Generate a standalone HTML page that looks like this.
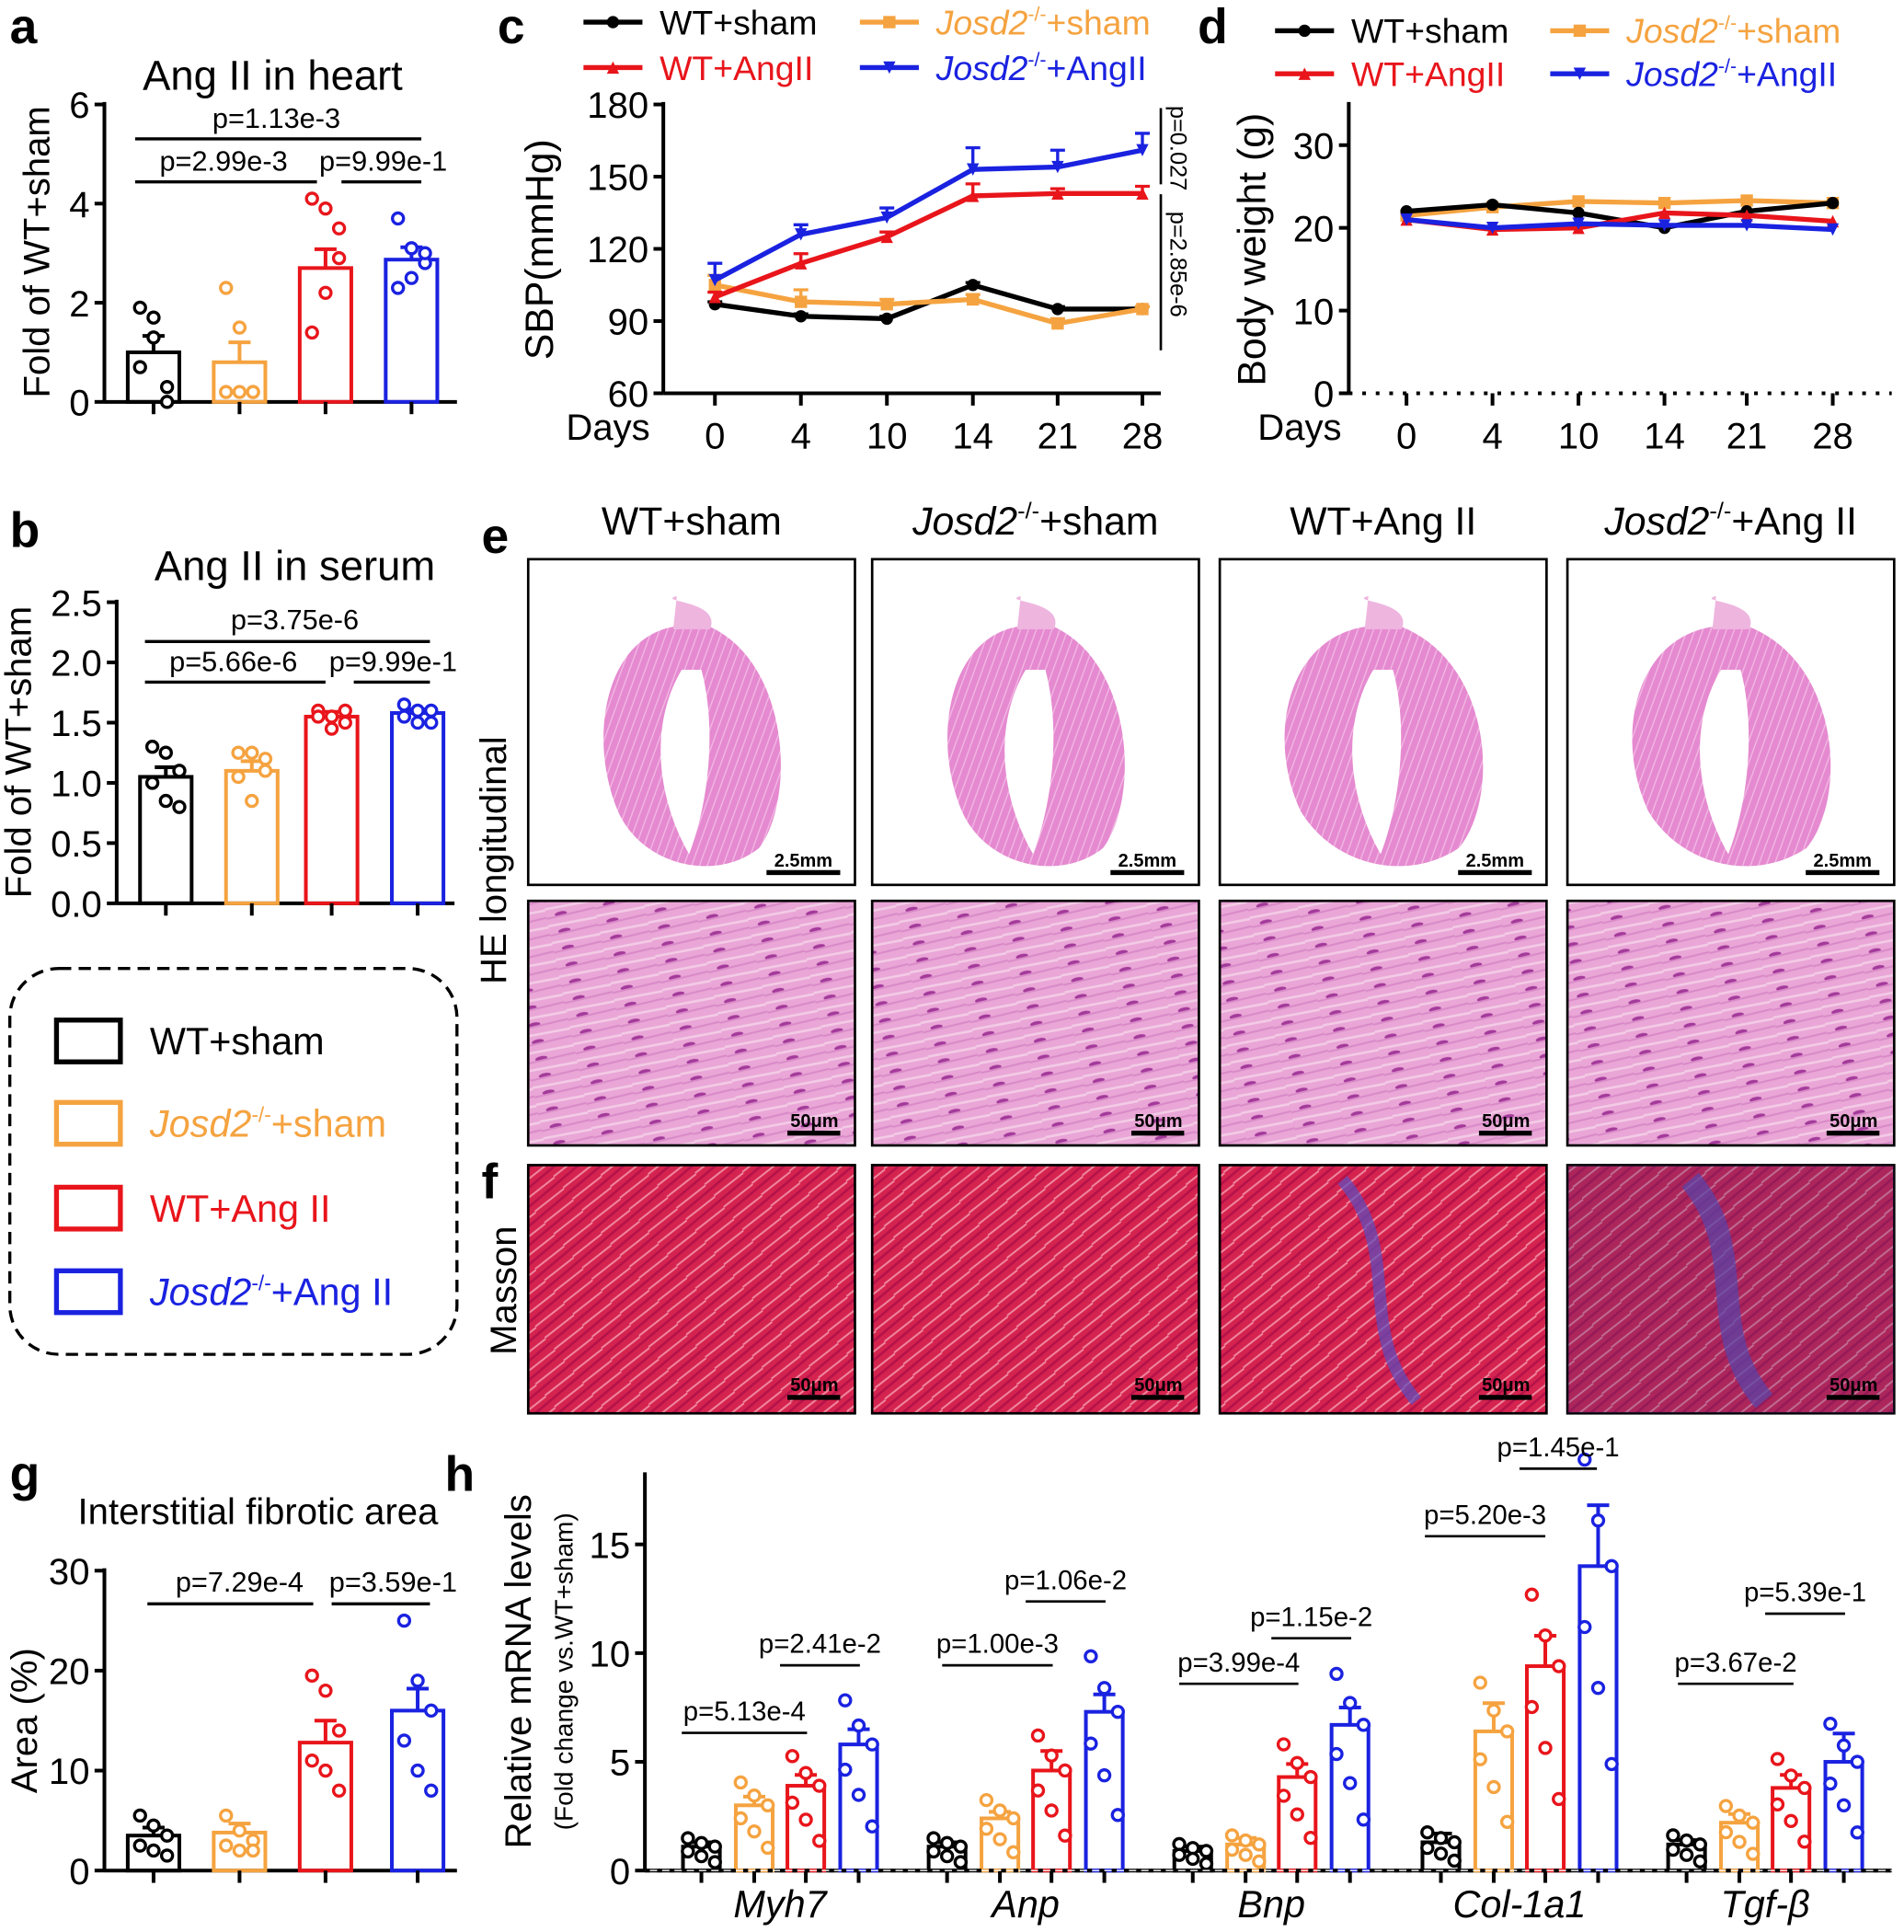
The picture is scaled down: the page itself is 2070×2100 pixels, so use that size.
<!DOCTYPE html>
<html><head><meta charset="utf-8"><style>
html,body{margin:0;padding:0;background:#fff}
svg{display:block}
text{font-family:"Liberation Sans",Arial,sans-serif}
</style></head><body>
<svg id="s" width="2070" height="2100" viewBox="0 0 1550 1572" preserveAspectRatio="none" xmlns="http://www.w3.org/2000/svg">
<defs>
<pattern id="he" width="40" height="14" patternUnits="userSpaceOnUse" patternTransform="rotate(-12)">
<rect width="40" height="14" fill="#e9a6d6"/><line x1="0" y1="4" x2="40" y2="5" stroke="#f3cbe6" stroke-width="2"/><ellipse cx="12" cy="10" rx="5" ry="1.8" fill="#a33a9a"/><line x1="0" y1="12" x2="40" y2="11" stroke="#d98ac8" stroke-width="1.5"/></pattern>
<pattern id="ms" width="30" height="12" patternUnits="userSpaceOnUse" patternTransform="rotate(-40)">
<rect width="30" height="12" fill="#d5234f"/><line x1="0" y1="3" x2="30" y2="4" stroke="#f08aa0" stroke-width="1.5"/><line x1="0" y1="9" x2="30" y2="9" stroke="#b5124a" stroke-width="2"/></pattern>
<pattern id="hs" width="8" height="6" patternUnits="userSpaceOnUse" patternTransform="rotate(-70)">
<rect width="8" height="6" fill="#e58ad0"/><line x1="0" y1="2" x2="8" y2="2" stroke="#f2b9e4" stroke-width="1"/></pattern>
</defs>
<g id="g"></g>
</svg>
<script>
const g=document.getElementById('g');let h='';
const K='#000',O='#F5A340',R='#E8151B',B='#1A22E0';
function T(x,y,s,sz,a,c,extra){h+=`<text x="${x}" y="${y}" font-size="${sz}" text-anchor="${a||'start'}" fill="${c||'#000'}" ${extra||''}>${s}</text>`}
function L(x1,y1,x2,y2,c,w,ex){h+=`<line x1="${x1}" y1="${y1}" x2="${x2}" y2="${y2}" stroke="${c||'#000'}" stroke-width="${w||2.5}" ${ex||''}/>`}
function bold(x,y,s){T(x,y,s,40,'start','#000','font-weight="bold"')}
const cols=[K,O,R,B];
function barpanel(ax,y0,y1,vmax,ticks,tlab,xs,vals,errs,pts,bw,xend){
 L(ax,y0-2,ax,y1,K,3);L(ax,y1,xend,y1,K,3);
 const sc=v=>y1-(v/vmax)*(y1-y0);
 ticks.forEach((t,i)=>{L(ax-8,sc(t),ax,sc(t),K,3);T(ax-12,sc(t)+11,tlab[i],30,'end')});
 xs.forEach((x,i)=>{const c=cols[i%4];const y=sc(vals[i]);
  h+=`<rect x="${x-bw/2}" y="${y}" width="${bw}" height="${y1-y}" fill="none" stroke="${c}" stroke-width="3"/>`;
  const ey=sc(vals[i]+errs[i]);L(x,y,x,ey,c,3);L(x-9,ey,x+9,ey,c,3);
  L(x,y1,x,y1+10,K,3);
  pts[i].forEach((p,j)=>{const dx=((j%3)-1)*11;h+=`<circle cx="${x+dx}" cy="${sc(p)}" r="4.5" fill="#fff" stroke="${c}" stroke-width="2.5"/>`});
 });
 return sc;
}
// a
bold(8,35,'a');T(222,73,'Ang II in heart',34,'middle');
h+=`<text x="40" y="205" font-size="30" text-anchor="middle" transform="rotate(-90 40 205)">Fold of WT+sham</text>`;
barpanel(85,85,327,6,[0,2,4,6],['0','2','4','6'],[125,195,265,335],[1.0,0.8,2.7,2.87],[0.33,0.4,0.38,0.25],
 [[1.9,1.7,0.3,0.7,1.3,0],[2.3,1.5,0.2,0.2,0.2,0.2],[4.1,3.9,2.9,1.4,2.2,3.5],[3.7,3.1,2.8,2.3,2.5,3.0]],42,372);
L(110,113,343,113);T(225,104,'p=1.13e-3',23,'middle');L(110,148,258,148);T(182,139,'p=2.99e-3',23,'middle');L(278,148,343,148);T(312,139,'p=9.99e-1',23,'middle');
// b
bold(8,445,'b');T(240,472,'Ang II in serum',34,'middle');
h+=`<text x="25" y="612" font-size="30" text-anchor="middle" transform="rotate(-90 25 612)">Fold of WT+sham</text>`;
barpanel(95,490,735,2.5,[0,0.5,1,1.5,2,2.5],['0.0','0.5','1.0','1.5','2.0','2.5'],[135,205,270,340],[1.05,1.1,1.55,1.58],[0.08,0.08,0.04,0.03],
 [[1.3,1.25,1.1,1.0,0.85,0.8],[1.25,1.25,1.1,1.05,0.85,1.2],[1.6,1.55,1.5,1.55,1.45,1.6],[1.65,1.6,1.5,1.55,1.5,1.6]],42,370);
L(118,522,350,522);T(240,512,'p=3.75e-6',23,'middle');L(118,555,265,555);T(190,546,'p=5.66e-6',23,'middle');L(288,555,350,555);T(320,546,'p=9.99e-1',23,'middle');
// legend box
h+=`<rect x="8" y="788" width="364" height="314" rx="40" fill="none" stroke="#000" stroke-width="2.5" stroke-dasharray="10,6"/>`;
const ln=['WT+sham','<tspan font-style="italic">Josd2</tspan><tspan font-size="17" dy="-12">-/-</tspan><tspan dy="12">+sham</tspan>','WT+Ang II','<tspan font-style="italic">Josd2</tspan><tspan font-size="17" dy="-12">-/-</tspan><tspan dy="12">+Ang II</tspan>'];
[847,914,983,1051].forEach((y,i)=>{h+=`<rect x="46" y="${y-17}" width="52" height="34" fill="none" stroke="${cols[i]}" stroke-width="4"/>`;T(122,y+11,ln[i],31,'start',cols[i])});
bold(405,35,'c');bold(975,35,'d');
function leg(x,y,c,m,lab){L(x,y,x+48,y,c,4);mk(x+24,y,m,c,5);T(x+62,y+10,lab,28,'start',c)}
function mk(x,y,m,c,r){if(m=='o')h+=`<circle cx="${x}" cy="${y}" r="${r}" fill="${c}"/>`;else if(m=='s')h+=`<rect x="${x-r}" y="${y-r}" width="${2*r}" height="${2*r}" fill="${c}"/>`;else if(m=='^')h+=`<polygon points="${x-r},${y+r} ${x+r},${y+r} ${x},${y-r}" fill="${c}"/>`;else h+=`<polygon points="${x-r},${y-r} ${x+r},${y-r} ${x},${y+r}" fill="${c}"/>`}
const js='<tspan font-style="italic">Josd2</tspan><tspan font-size="16" dy="-11">-/-</tspan><tspan dy="11">';
leg(475,18,K,'o','WT+sham');leg(700,18,O,'s',js+'+sham</tspan>');leg(475,55,R,'^','WT+AngII');leg(700,55,B,'v',js+'+AngII</tspan>');
leg(1038,25,K,'o','WT+sham');leg(1262,25,O,'s',js+'+sham</tspan>');leg(1038,60,R,'^','WT+AngII');leg(1262,60,B,'v',js+'+AngII</tspan>');
const cx=[582,652,722,792,861,930],days=['0','4','10','14','21','28'];
L(540,83,540,320,K,3);L(540,320,945,320,K,3);
const cy=v=>320-(v-60)*235/120;
[60,90,120,150,180].forEach(t=>{L(532,cy(t),540,cy(t),K,3);T(528,cy(t)+11,t,30,'end')});
cx.forEach((x,i)=>{L(x,320,x,330,K,3);T(x,365,days[i],30,'middle')});T(495,358,'Days',30,'middle');
h+=`<text x="450" y="203" font-size="32" text-anchor="middle" transform="rotate(-90 450 203)">SBP(mmHg)</text>`;
const cd=[[K,'o',[97,92,91,105,95,95],[1,1,1,1,1,1]],[O,'s',[105,98,97,99,89,95],[4,5,2,2,2,1]],[R,'^',[100,114,125,142,143,143],[2,4,2,5,2,3]],[B,'v',[107,126,133,153,154,161],[7,4,4,9,7,7]]];
cd.forEach(([c,m,v,e])=>{h+=`<polyline points="${cx.map((x,i)=>x+','+cy(v[i])).join(' ')}" fill="none" stroke="${c}" stroke-width="4"/>`;cx.forEach((x,i)=>{L(x,cy(v[i]),x,cy(v[i]+e[i]),c,2.5);L(x-6,cy(v[i]+e[i]),x+6,cy(v[i]+e[i]),c,2.5);mk(x,cy(v[i]),m,c,5)})});
L(945,88,945,150,K,2);L(945,158,945,285,K,2);
h+=`<text x="953" y="86" font-size="19" transform="rotate(90 953 86)">p=0.027</text><text x="953" y="172" font-size="19" transform="rotate(90 953 172)">p=2.85e-6</text>`;
const dx=[1145,1215,1285,1355,1422,1492];
L(1098,83,1098,320,K,3);L(1098,320,1540,320,K,3,'stroke-dasharray="3,8"');
const dy=v=>320-v*6.73;
[0,10,20,30].forEach(t=>{L(1090,dy(t),1098,dy(t),K,3);T(1086,dy(t)+11,t,30,'end')});
dx.forEach((x,i)=>{L(x,320,x,330,K,3);T(x,365,days[i],30,'middle')});T(1058,358,'Days',30,'middle');
h+=`<text x="1030" y="203" font-size="32" text-anchor="middle" transform="rotate(-90 1030 203)">Body weight (g)</text>`;
const dd=[[O,'s',[21.5,22.5,23.2,23,23.3,23]],[K,'o',[22,22.8,21.8,20,22,23]],[R,'^',[21,19.8,20,21.8,21.5,20.8]],[B,'v',[21,20,20.5,20.3,20.3,19.8]]];
dd.forEach(([c,m,v])=>{h+=`<polyline points="${dx.map((x,i)=>x+','+dy(v[i])).join(' ')}" fill="none" stroke="${c}" stroke-width="4"/>`;dx.forEach((x,i)=>mk(x,dy(v[i]),m,c,5))});
bold(392,450,'e');bold(392,975,'f');
const ix=[430,710,993,1276],iw=266;
const et=['WT+sham','<tspan font-style="italic">Josd2</tspan><tspan font-size="19" dy="-13">-/-</tspan><tspan dy="13">+sham</tspan>','WT+Ang II','<tspan font-style="italic">Josd2</tspan><tspan font-size="19" dy="-13">-/-</tspan><tspan dy="13">+Ang II</tspan>'];
ix.forEach((x,i)=>{T(x+iw/2,435,et[i],32,'middle');
 h+=`<rect x="${x}" y="455" width="${iw}" height="265" fill="#fff" stroke="#000" stroke-width="2"/>`;
 const c=x+iw/2;const s=i>=2?1.12:1;
 h+=`<path d="M${c-15} 510 C${c-70*s} 520 ${c-85*s} 600 ${c-60*s} 660 C${c-40} 705 ${c+20} 718 ${c+55*s} 690 C${c+85*s} 650 ${c+80*s} 540 ${c+15} 510 Z" fill="url(#hs)"/>`;
 h+=`<path d="M${c-12} 485 C${c-30} 490 ${c+25} 488 ${c+15} 512 L${c-15} 512 Z" fill="#eeb5df"/>`;
 h+=`<path d="M${c-8} 545 C${c-35} 590 ${c-28} 650 ${c-2} 695 C${c+15} 650 ${c+20} 590 ${c+8} 545 Z" fill="#fff"/>`;
 L(x+iw-72,710,x+iw-12,710,K,4);T(x+iw-42,705,'2.5mm',15,'middle','#000','font-weight="bold"');
 h+=`<rect x="${x}" y="733" width="${iw}" height="199" fill="url(#he)" stroke="#000" stroke-width="2"/>`;
 L(x+iw-55,922,x+iw-12,922,K,4);T(x+iw-33,917,'50μm',15,'middle','#000','font-weight="bold"');
 h+=`<rect x="${x}" y="948" width="${iw}" height="202" fill="url(#ms)" stroke="#000" stroke-width="2"/>`;
 if(i>=2)h+=`<path d="M${x+100} 960 C${x+150} 1020 ${x+110} 1080 ${x+160} 1140" stroke="#5a4fc0" stroke-width="${i==2?10:18}" fill="none" opacity="0.7"/>`;
 if(i==3)h+=`<rect x="${x}" y="948" width="${iw}" height="202" fill="#50307a" opacity="0.3"/>`;
 L(x+iw-55,1137,x+iw-12,1137,K,4);T(x+iw-33,1132,'50μm',15,'middle','#000','font-weight="bold"');
});
h+=`<text x="412" y="700" font-size="30" text-anchor="middle" transform="rotate(-90 412 700)">HE longitudinal</text>`;
h+=`<text x="420" y="1050" font-size="30" text-anchor="middle" transform="rotate(-90 420 1050)">Masson</text>`;
bold(8,1213,'g');T(210,1240,'Interstitial fibrotic area',30,'middle');
h+=`<text x="30" y="1400" font-size="30" text-anchor="middle" transform="rotate(-90 30 1400)">Area (%)</text>`;
barpanel(85,1278,1522,30,[0,10,20,30],['0','10','20','30'],[125,195,265,340],[3.5,3.8,12.8,16],[0.8,0.9,2.2,2.2],
 [[5.5,4.5,3.5,2.5,2,1.5],[5.5,4,3,2.5,2,2],[19.5,18,14,11,10,8],[25,19,16,13,10,8]],42,372);
L(120,1305,255,1305);T(195,1295,'p=7.29e-4',23,'middle');L(270,1305,350,1305);T(320,1295,'p=3.59e-1',23,'middle');
bold(362,1213,'h');
h+=`<text x="432" y="1360" font-size="30" text-anchor="middle" transform="rotate(-90 432 1360)">Relative mRNA levels</text>`;
h+=`<text x="466" y="1360" font-size="21" text-anchor="middle" transform="rotate(-90 466 1360)">(Fold change vs.WT+sham)</text>`;
const gc=[635,835,1035,1237,1437],vals=[[1.1,3.0,3.9,5.8],[1.1,2.4,4.6,7.3],[0.9,1.2,4.3,6.7],[1.3,6.4,9.4,14],[1.2,2.2,3.8,5.0]],
ers=[[0.2,0.4,0.5,0.7],[0.2,0.3,0.9,0.8],[0.2,0.3,0.6,0.8],[0.4,1.3,1.4,2.8],[0.2,0.4,0.6,1.3]];
const hx=[],hv=[],he=[],hp=[];
gc.forEach((c,k)=>[-64,-21,21,64].forEach((o,i)=>{hx.push(c+o);hv.push(vals[k][i]);he.push(ers[k][i]);const v=vals[k][i];hp.push([v*1.35,v*1.15,v*1.0,v*0.8,v*0.6,v*0.35])}));
barpanel(525,1200,1522,18.2,[0,5,10,15],['0','5','10','15'],hx,hv,he,hp,30,1540);
L(525,1522,1540,1522,'#fff',1);L(525,1522,1540,1522,K,3,'stroke-dasharray="4,6"');
['Myh7','Anp','Bnp','Col-1a1','Tgf-β'].forEach((n,k)=>T(gc[k],1560,n,31,'middle','#000','font-style="italic"'));
const hpv=[[555,657,1410,'p=5.13e-4'],[635,700,1355,'p=2.41e-2'],[767,857,1355,'p=1.00e-3'],[835,900,1303,'p=1.06e-2'],[960,1057,1370,'p=3.99e-4'],[1035,1100,1333,'p=1.15e-2'],[1160,1258,1250,'p=5.20e-3'],[1237,1300,1195,'p=1.45e-1'],[1366,1460,1370,'p=3.67e-2'],[1437,1502,1313,'p=5.39e-1']];
hpv.forEach(([a,b,y,s])=>{L(a,y,b,y,K,2);T((a+b)/2,y-10,s,22,'middle')});
g.innerHTML=h;
</script>
</body></html>
